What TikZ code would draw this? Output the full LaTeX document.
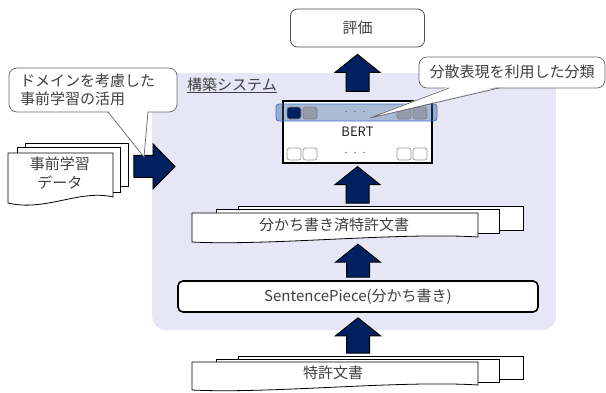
\documentclass[tikz,border=0pt]{standalone}
\usepackage{fontspec}
\setmainfont{Noto Sans CJK JP}
\usetikzlibrary{calc}
\definecolor{bgl}{RGB}{230,230,246}
\definecolor{navy}{RGB}{0,32,96}
\definecolor{txt}{RGB}{64,64,64}
\definecolor{barblue}{RGB}{47,85,151}
\definecolor{barline}{RGB}{68,114,196}
\definecolor{sqgray}{RGB}{150,155,170}
\definecolor{sqline}{RGB}{125,128,140}
\newcommand\blockup[5]{%
 \draw[barrow] let \p1=#1, \p2=#2, \p3=#3 in
 (\x3-11.5pt,\y1+#4) -- (\x3-11.5pt,\y2-#5-18pt) -- (\x3-22.5pt,\y2-#5-18pt) -- (\x3,\y2-#5)
 -- (\x3+22.5pt,\y2-#5-18pt) -- (\x3+11.5pt,\y2-#5-18pt) -- (\x3+11.5pt,\y1+#4) -- cycle;}
\begin{document}
\begin{tikzpicture}[x=1pt,y=-1pt,
  font=\fontsize{15}{18}\selectfont, text=txt,
  sheet/.style={draw=black, fill=white, line width=0.8pt, inner sep=0pt},
  barrow/.style={draw=black, fill=navy, line width=1pt, line join=miter},
  callout/.style={draw=black!60, fill=white, line width=0.7pt},
  sq/.style={rounded corners=2.5pt, line width=0.7pt},
  dot/.style={fill=black!50, draw=none}]
\useasboundingbox (0,0) rectangle (606,392);

% system background
\node[fill=bgl, rounded corners=14pt, minimum width=404pt, minimum height=257pt,
      anchor=north west, inner sep=0pt] (sys) at (152,73) {};
\node[anchor=base west, inner sep=0pt] (syslabel) at (187,90) {構築システム};
\draw[txt, line width=0.6pt] ([yshift=-2pt]syslabel.base west) -- ([yshift=-2pt]syslabel.base east);

% evaluation
\node[draw=black!70, fill=white, rounded corners=7pt, line width=0.8pt,
      minimum width=134pt, minimum height=38pt] (eval) at (357.5,28) {評価};

% BERT
\node[draw=black, fill=white, line width=1.2pt, minimum width=149pt, minimum height=62pt,
      font=\fontsize{13}{15}\selectfont, text=black!85] (bert) at (357.5,132) {BERT};
\draw[barline, fill=barblue, fill opacity=0.4, line width=0.8pt, rounded corners=3pt]
  (276,104) rectangle (437,121);
\draw[sq, draw=sqline, fill=navy] (287,107) rectangle (301,119);
\foreach \xa in {303,397,413}
  \draw[sq, draw=sqline, fill=sqgray] (\xa,107) rectangle (\xa+14,119);
\foreach \xa in {287,303,397,413}
  \draw[sq, draw=black!40] (\xa,148) rectangle (\xa+14,160);
\foreach \xa in {346,355,364} {
  \fill[dot] (\xa,111.5) circle (0.9pt);
  \fill[dot] (\xa,152.5) circle (0.9pt);
}

% word-segmented patent documents
\node[sheet, minimum width=285pt, minimum height=24pt, anchor=north west] (wback) at (238,206) {};
\node[sheet, minimum width=283pt, minimum height=24pt, anchor=north west] (wmid) at (216,209) {};
\draw[sheet] (192,213) -- (478,213) -- (478,237) .. controls (400,232) and (270,246) .. (192,242) -- cycle;
\node[inner sep=0pt] (wdoc) at (334,225) {分かち書き済特許文書};

% SentencePiece
\node[draw=black, fill=white, line width=1.6pt, rounded corners=5pt,
      minimum width=360pt, minimum height=31pt] (sp) at (358,296.5) {SentencePiece(分かち書き)};

% patent documents
\node[sheet, minimum width=285pt, minimum height=23pt, anchor=north west] (pback) at (238,356) {};
\node[sheet, minimum width=283pt, minimum height=23pt, anchor=north west] (pmid) at (216,359) {};
\draw[sheet] (192,362) -- (478,362) -- (478,385) .. controls (400,380) and (270,394) .. (192,390) -- cycle;
\node[inner sep=0pt] (pdoc) at (333,373) {特許文書};

% pre-training data
\node[sheet, minimum width=103pt, minimum height=43pt, anchor=north west] (lback) at (25,143) {};
\node[sheet, minimum width=103pt, minimum height=45pt, anchor=north west] (lmid) at (17,147) {};
\draw[sheet] (8,153) -- (113,153) -- (113,197) .. controls (80,189) and (45,212) .. (8,203) -- cycle;
\node[inner sep=0pt, align=center, font=\fontsize{15}{19}\selectfont] (ldoc) at (60,173.5) {事前学習\\データ};

% block arrows
\blockup{(bert.north)}{(eval.south)}{(eval.center)}{9pt}{7pt}
\blockup{(wback.north)}{(bert.south)}{(bert.center)}{3pt}{3pt}
\blockup{(sp.north)}{(wdoc.south)}{(sp.center)}{3pt}{12pt}
\blockup{(pback.north)}{(sp.south)}{(sp.center)}{3pt}{5pt}
\draw[barrow] let \p1=(lback.east), \p2=(sys.west), \p3=(lback.center) in
  (\x1+5pt,\y3+9.5pt) -- (\x2+1pt,\y3+9.5pt) -- (\x2+1pt,\y3+21pt) -- (\x2+23pt,\y3-1.5pt)
  -- (\x2+1pt,\y3-24pt) -- (\x2+1pt,\y3-12.5pt) -- (\x1+5pt,\y3-12.5pt) -- cycle;

% callout: domain-aware pre-training
\draw[callout, rounded corners=8pt] (9,68) rectangle (177,112);
\fill[white] (108.5,110.5) -- (147.6,110.5) -- (144,157) -- cycle;
\draw[draw=black!60, line width=0.7pt] (108,112) -- (144,157) -- (148,112);
\node[anchor=west, inner sep=0pt, align=left] (cl1) at (20,90) {ドメインを考慮した\\事前学習の活用};

% callout: classification using distributed representations
\draw[callout, rounded corners=8pt] (419,57) rectangle (605,88);
\fill[white] (449.5,86.5) -- (498.5,86.5) -- (370,118) -- cycle;
\draw[draw=black!60, line width=0.7pt] (449,88) -- (370,118) -- (499,88);
\node[inner sep=0pt] (cl2) at (512,72) {分散表現を利用した分類};
\end{tikzpicture}
\end{document}
